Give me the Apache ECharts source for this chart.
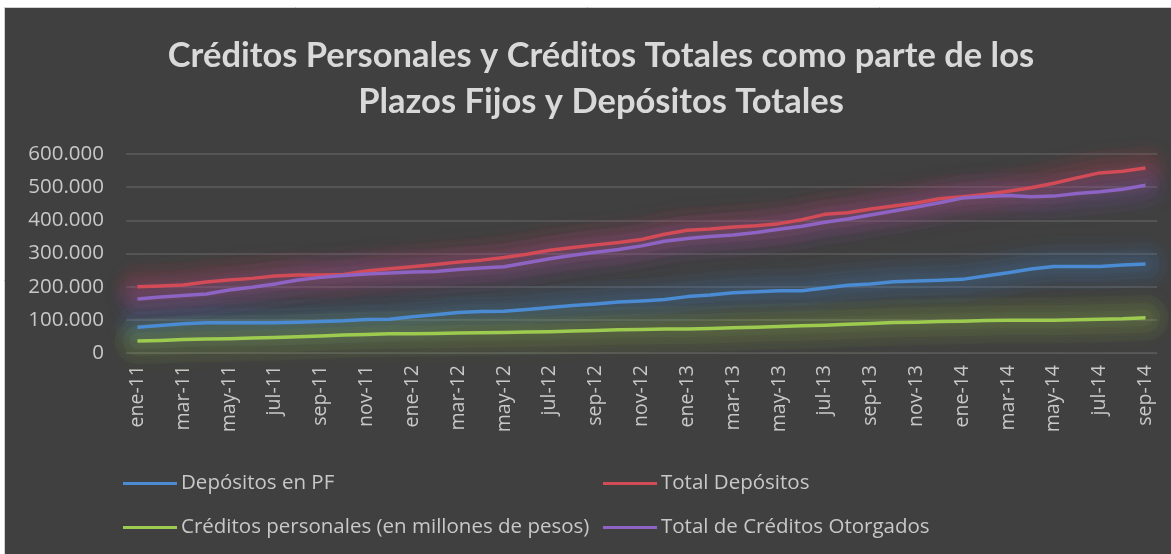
<!DOCTYPE html>
<html><head><meta charset="utf-8">
<script src="https://cdn.jsdelivr.net/npm/echarts@6/dist/echarts.min.js"></script>
<style>html,body{margin:0;padding:0;background:#fff}#c{width:1171px;height:554px}</style>
</head><body><div id="c"></div>
<script>
const titleText = 'Créditos Personales y Créditos Totales como parte de los\nPlazos Fijos y Depósitos Totales';
const months = ['ene','feb','mar','abr','may','jun','jul','ago','sep','oct','nov','dic'];
const categories = [];
for (const y of ['11','12','13','14']) for (const m of months) categories.push(m + '-' + y);
categories.length = 45; // ene-11 .. sep-14

const seriesNames = ['Depósitos en PF','Total Depósitos','Créditos personales (en millones de pesos)','Total de Créditos Otorgados'];
const depositosPF = [78000,83000,88000,91000,91000,91000,91000,93000,95000,97000,101000,102000,109000,115000,122000,125000,126000,131000,137000,143000,148000,154000,157000,161000,170000,175000,182000,185000,188000,188000,196000,204000,208000,215000,217000,219000,222000,232000,242000,253000,261000,261000,261000,265000,268000];
const totalDepositos = [200000,202000,205000,214000,220000,225000,232000,235000,235000,237000,247000,254000,260000,267000,274000,280000,288000,298000,310000,318000,326000,333000,342000,358000,370000,374000,380000,384000,390000,402000,418000,423000,434000,443000,452000,465000,471000,478000,488000,498000,512000,528000,543000,548000,558000];
const creditosPersonales = [36000,38000,41000,42000,43000,45000,47000,49000,51000,54000,56000,58000,58000,59000,60000,61000,62000,63000,64000,66000,68000,70000,71000,72000,72000,74000,76000,78000,80000,82000,84000,87000,89000,92000,93000,95000,96000,98000,99000,99000,99000,100000,102000,103000,106000];
const totalCreditos = [163000,169000,173000,178000,190000,198000,208000,220000,228000,234000,238000,241000,244000,246000,252000,256000,260000,272000,284000,295000,304000,312000,323000,337000,345000,351000,356000,363000,373000,382000,394000,404000,416000,428000,440000,453000,467000,472000,475000,471000,473000,481000,486000,494000,506000];
const yTicks = [0,100000,200000,300000,400000,500000,600000];

const colors = ['#4a8bd3','#d24b56','#9dcb4f','#8d63c3'];
const rgb = ['74,139,211','210,75,86','157,203,79','141,99,195'];
const dataArr = [depositosPF, totalDepositos, creditosPersonales, totalCreditos];
const glowLayers = [{w:46, a:0.045}, {w:30, a:0.05}, {w:16, a:0.06}];

const chart = echarts.init(document.getElementById('c'), null, {renderer:'canvas'});
const FONT = '"Open Sans", sans-serif';
const legendText = {color:'#c8c8c8', fontFamily:FONT, fontSize:20.5, padding:[0,0,0,-1]};

const glowSeries = [];
[0,1,2,3].forEach(i => glowLayers.forEach((g, k) => glowSeries.push({
  name: 'glow' + i + '_' + k, type:'line', data: dataArr[i], symbol:'none', clip:true, silent:true,
  lineStyle:{color:'rgba(' + rgb[i] + ',' + g.a + ')', width:g.w, cap:'round', join:'round',
             shadowBlur:16, shadowColor:colors[i]},
  z: 1
})));
const mainSeries = [0,1,2,3].map(i => ({
  name: seriesNames[i], type:'line', data: dataArr[i], symbol:'none', smooth:false,
  color: colors[i],
  lineStyle:{color:colors[i], width:3.5, join:'round'},
  z: 3 + i
}));

chart.setOption({
  backgroundColor: '#404040',
  animation: false,
  graphic: [
    {type:'rect', shape:{x:0,y:0,width:1171,height:7}, style:{fill:'#ffffff'}, z:100},
    {type:'rect', shape:{x:0,y:0,width:4,height:554}, style:{fill:'#ffffff'}, z:100},
    {type:'line', shape:{x1:4,y1:7.5,x2:1171,y2:7.5}, style:{stroke:'#d0d0d0',lineWidth:1}, z:100},
    {type:'line', shape:{x1:4.5,y1:7,x2:4.5,y2:554}, style:{stroke:'#d0d0d0',lineWidth:1}, z:100}
  ],
  title: {
    text: titleText,
    left: 596, top: 28, textAlign: 'center',
    textStyle: {color:'#d9d9d9', fontFamily:'Lato, sans-serif', fontWeight:'bold', fontSize:34.5, lineHeight:46}
  },
  grid: {left:126, right:14, top:154, height:199},
  legend: [
    {data:[seriesNames[0], seriesNames[2]], orient:'vertical', left:118, top:468, itemGap:23,
     icon:'rect', itemWidth:54, itemHeight:3, textStyle:legendText},
    {data:[seriesNames[1], seriesNames[3]], orient:'vertical', left:598, top:468, itemGap:23,
     icon:'rect', itemWidth:54, itemHeight:3, textStyle:legendText}
  ],
  xAxis: {
    type:'category', data:categories, boundaryGap:true,
    axisLine:{show:true, lineStyle:{color:'#595959', width:1}},
    axisTick:{show:false},
    axisLabel:{interval:1, rotate:90, color:'#c8c8c8', fontFamily:FONT, fontSize:19.5, margin:12}
  },
  yAxis: {
    type:'value', min:0, max:600000, interval:100000,
    axisLine:{show:false}, axisTick:{show:false},
    splitLine:{lineStyle:{color:'#5c5c5c', width:1.5}},
    axisLabel:{color:'#c8c8c8', fontFamily:FONT, fontSize:20.5, margin:22,
      formatter: v => v === 0 ? '0' : (v/1000).toFixed(0) + '.000'}
  },
  series: glowSeries.concat(mainSeries)
});
</script></body></html>
